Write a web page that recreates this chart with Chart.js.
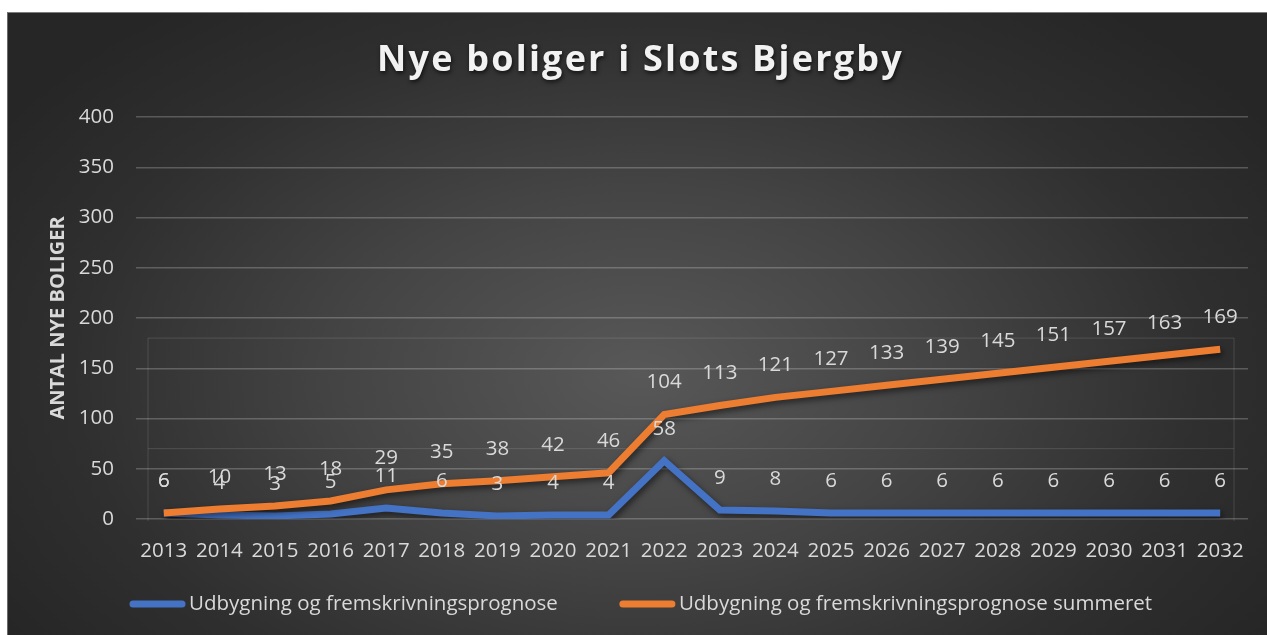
<!DOCTYPE html>
<html>
<head>
<meta charset="utf-8">
<title>Nye boliger i Slots Bjergby</title>
<script src="https://cdn.jsdelivr.net/npm/chart.js@4.4.1/dist/chart.umd.min.js"></script>
<style>
  html, body { margin: 0; padding: 0; background: #ffffff; }
  #wrap {
    position: absolute;
    left: 7px;
    top: 12px;
    width: 1260px;
    height: 623px;
    background: radial-gradient(ellipse 60% 75% at 50% 58%, #585858 0%, #444444 40%, #2f2f2f 75%, #262626 100%);
    border-top: 1px solid #7c7c7c;
    border-left: 1px solid #6a6a6a;
    box-sizing: border-box;
  }
  #chart { display: block; }
</style>
</head>
<body>
<div id="wrap"><canvas id="chart" width="1259" height="622"></canvas></div>
<script>
// Chart data
const years = ['2013', '2014', '2015', '2016', '2017', '2018', '2019', '2020', '2021', '2022',
  '2023', '2024', '2025', '2026', '2027', '2028', '2029', '2030', '2031', '2032'];
const perYear = [6, 4, 3, 5, 11, 6, 3, 4, 4, 58, 9, 8, 6, 6, 6, 6, 6, 6, 6, 6];
const summed = [6, 10, 13, 18, 29, 35, 38, 42, 46, 104, 113, 121, 127, 133, 139, 145, 151, 157, 163, 169];
const seriesNames = ['Udbygning og fremskrivningsprognose', 'Udbygning og fremskrivningsprognose summeret'];
const chartTitle = 'Nye boliger i Slots Bjergby';
const yTitle = 'ANTAL NYE BOLIGER';

const BLUE = '#4472C4';
const ORANGE = '#ED7D31';
const TEXT = '#d9d9d9';
const FONT = "'Open Sans', 'Noto Sans', sans-serif";
const SIZE = 20.5;

// Title with letter spacing + soft shadow
const titlePlugin = {
  id: 'titlePlugin',
  afterDraw(chart) {
    const ctx = chart.ctx;
    ctx.save();
    ctx.font = 'bold 36px ' + FONT;
    ctx.letterSpacing = '2.2px';
    ctx.fillStyle = '#f2f2f2';
    ctx.textAlign = 'center';
    ctx.textBaseline = 'middle';
    ctx.shadowColor = 'rgba(0,0,0,0.7)';
    ctx.shadowBlur = 4;
    ctx.shadowOffsetX = 1;
    ctx.shadowOffsetY = 2;
    ctx.fillText(chartTitle, chart.width / 2 + 3, 48);
    ctx.restore();
  }
};

// Faint leftover frame seen behind the plot
const ghostFrame = {
  id: 'ghostFrame',
  beforeDatasetsDraw(chart) {
    const {ctx, chartArea} = chart;
    const y = chart.scales.y;
    const l = chartArea.left + 12, r = chartArea.right - 14;
    const t = y.getPixelForValue(180), m = y.getPixelForValue(70);
    ctx.save();
    ctx.strokeStyle = 'rgba(255,255,255,0.13)';
    ctx.lineWidth = 1;
    ctx.beginPath();
    ctx.moveTo(l, chartArea.bottom + 2);
    ctx.lineTo(l, t);
    ctx.lineTo(r, t);
    ctx.lineTo(r, chartArea.bottom + 2);
    ctx.moveTo(l, m);
    ctx.lineTo(r, m);
    ctx.stroke();
    ctx.restore();
  }
};

// Drop shadow under the lines
const lineShadow = {
  id: 'lineShadow',
  beforeDatasetDraw(chart) {
    const ctx = chart.ctx;
    ctx.save();
    ctx.shadowColor = 'rgba(0,0,0,0.55)';
    ctx.shadowBlur = 6;
    ctx.shadowOffsetX = 2;
    ctx.shadowOffsetY = 3;
  },
  afterDatasetDraw(chart) {
    chart.ctx.restore();
  }
};

// Value labels above each point
const valueLabels = {
  id: 'valueLabels',
  afterDatasetsDraw(chart) {
    const ctx = chart.ctx;
    ctx.save();
    ctx.font = SIZE + 'px ' + FONT;
    ctx.fillStyle = TEXT;
    ctx.textAlign = 'center';
    ctx.textBaseline = 'middle';
    chart.data.datasets.forEach((ds, i) => {
      const meta = chart.getDatasetMeta(i);
      meta.data.forEach((pt, j) => {
        ctx.fillText(String(ds.data[j]), pt.x, pt.y - 32);
      });
    });
    ctx.restore();
  }
};

// Legend drawn as line samples under the axis
const lineLegend = {
  id: 'lineLegend',
  afterDraw(chart) {
    const ctx = chart.ctx;
    const y = 591;
    let x = chart.chartArea.left - 6;
    ctx.save();
    ctx.font = SIZE + 'px ' + FONT;
    ctx.textBaseline = 'middle';
    ctx.textAlign = 'left';
    chart.data.datasets.forEach((ds) => {
      ctx.strokeStyle = ds.borderColor;
      ctx.lineWidth = 7;
      ctx.lineCap = 'round';
      ctx.beginPath();
      ctx.moveTo(x + 3, y);
      ctx.lineTo(x + 52, y);
      ctx.stroke();
      ctx.fillStyle = TEXT;
      ctx.fillText(ds.label, x + 59, y);
      x += 59 + ctx.measureText(ds.label).width + 62;
    });
    ctx.restore();
  }
};

const ctx = document.getElementById('chart').getContext('2d');
const chart = new Chart(ctx, {
  type: 'line',
  data: {
    labels: years,
    datasets: [{
      label: seriesNames[0],
      data: perYear,
      borderColor: BLUE,
      backgroundColor: BLUE,
      borderWidth: 7,
      pointRadius: 0,
      tension: 0,
      order: 1
    }, {
      label: seriesNames[1],
      data: summed,
      borderColor: ORANGE,
      backgroundColor: ORANGE,
      borderWidth: 7,
      pointRadius: 0,
      tension: 0,
      order: 0
    }]
  },
  options: {
    responsive: false,
    animation: false,
    layout: {
      padding: { top: 104, right: 19, bottom: 0, left: 0 }
    },
    plugins: {
      legend: { display: false },
      tooltip: { enabled: false },
      title: { display: false }
    },
    scales: {
      x: {
        offset: true,
        grid: { display: false, drawTicks: false },
        border: { display: false },
        ticks: {
          color: TEXT,
          font: { family: FONT, size: SIZE },
          padding: 20,
          maxRotation: 0,
          autoSkip: false
        },
        afterFit(scale) { scale.height = 116; }
      },
      y: {
        min: 0,
        max: 400,
        grid: {
          color: 'rgba(255,255,255,0.22)',
          lineWidth: 1.5,
          drawTicks: false
        },
        border: { display: false },
        ticks: {
          stepSize: 50,
          color: TEXT,
          font: { family: FONT, size: SIZE },
          padding: 22
        },
        title: {
          display: true,
          text: yTitle,
          color: TEXT,
          font: { family: FONT, size: 20, weight: 'bold' },
          padding: { top: 38, bottom: 0 }
        },
        afterFit(scale) { scale.width = 128; }
      }
    }
  },
  plugins: [ghostFrame, lineShadow, valueLabels, lineLegend, titlePlugin]
});
</script>
</body>
</html>
